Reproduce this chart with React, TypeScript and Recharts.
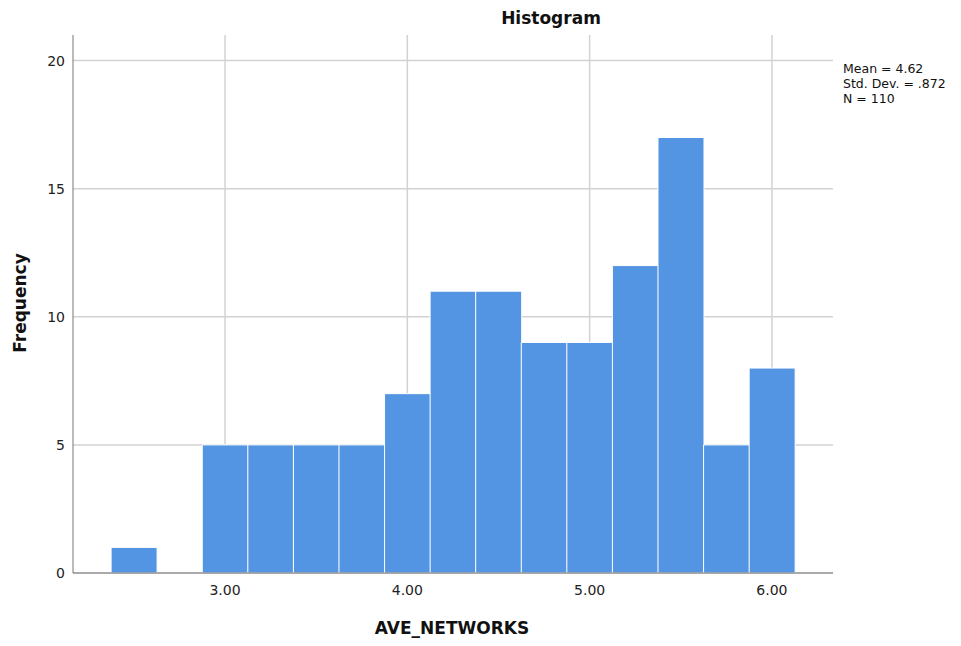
import { ComposedChart, Bar, XAxis, YAxis, CartesianGrid } from 'recharts';

const binCenters = [2.5, 2.75, 3.0, 3.25, 3.5, 3.75, 4.0, 4.25, 4.5, 4.75, 5.0, 5.25, 5.5, 5.75, 6.0];
const frequencies = [1, 0, 5, 5, 5, 5, 7, 11, 11, 9, 9, 12, 17, 5, 8];
const xTicks = [3, 4, 5, 6];
const yTicks = [0, 5, 10, 15, 20];
const statsLines = ['Mean = 4.62', 'Std. Dev. = .872', 'N = 110'];

const data = binCenters.map((x, i) => ({ x, freq: frequencies[i] }));

const font = '"DejaVu Sans", sans-serif';

const App = () => {
  return (
    <div style={{ position: 'absolute', left: 0, top: 0, width: 961, height: 646, background: '#fff' }}>
      <ComposedChart
        width={961}
        height={646}
        data={data}
        margin={{ top: 35, right: 128, bottom: 0, left: 0 }}
        barCategoryGap={0}
        barGap={0}
      >
        <CartesianGrid stroke="#d2d2d2" strokeWidth={1.5} syncWithTicks />
        <XAxis
          dataKey="x"
          type="number"
          domain={[2.166, 6.335]}
          ticks={xTicks}
          tickFormatter={(v: number) => v.toFixed(2)}
          height={73}
          axisLine={{ stroke: '#777' }}
          tickLine={false}
          tickMargin={6}
          tick={{ fill: '#222', fontSize: 14, fontFamily: font }}
          allowDataOverflow
        />
        <YAxis
          type="number"
          domain={[0, 21]}
          ticks={yTicks}
          width={73}
          axisLine={{ stroke: '#777' }}
          tickLine={false}
          tickMargin={2}
          tick={{ fill: '#222', fontSize: 14, fontFamily: font }}
          allowDataOverflow
        />
        <Bar dataKey="freq" fill="#5495e3" stroke="#fff" strokeWidth={1} isAnimationActive={false} />
        <text x={551} y={24} textAnchor="middle" fontFamily={font} fontWeight="bold" fontSize={17} fill="#111">
          Histogram
        </text>
        <text x={452} y={634} textAnchor="middle" fontFamily={font} fontWeight="bold" fontSize={17} fill="#111">
          AVE_NETWORKS
        </text>
        <text
          x={0}
          y={0}
          transform="translate(26,303) rotate(-90)"
          textAnchor="middle"
          fontFamily={font}
          fontWeight="bold"
          fontSize={17}
          fill="#111"
        >
          Frequency
        </text>
        {statsLines.map((line, i) => (
          <text key={line} x={843} y={73 + i * 15} fontFamily={font} fontSize={12.5} fill="#111">
            {line}
          </text>
        ))}
      </ComposedChart>
    </div>
  );
};

export default App;
